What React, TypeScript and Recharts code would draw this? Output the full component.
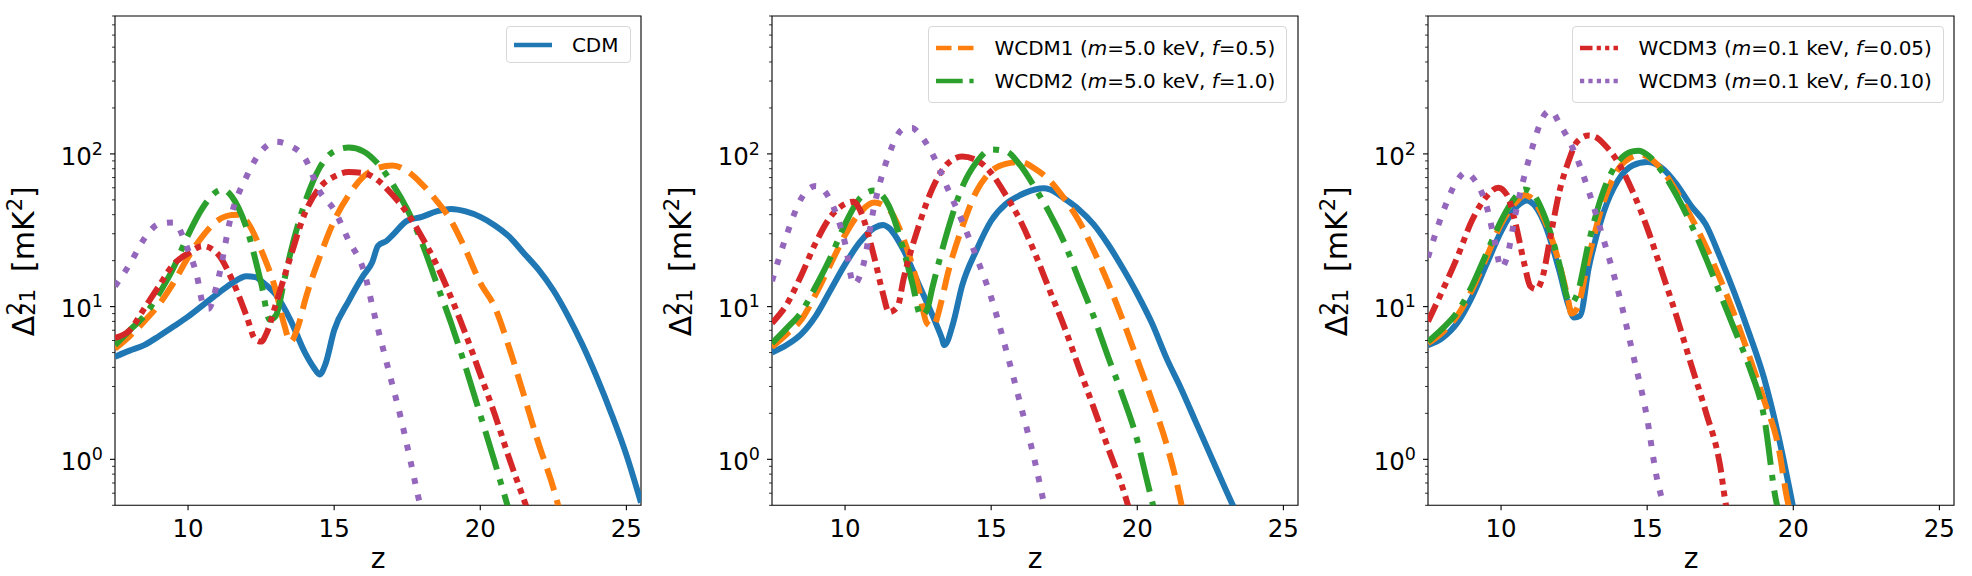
import React from 'react';
import { LineChart, Line, XAxis, YAxis, ReferenceArea } from 'recharts';

type Pt = [number, number];

// ---------- axes ----------
const X_TICKS = [10, 15, 20, 25];
const Y_MAJOR = [1, 10, 100];
const Y_MINOR = [0.5, 0.6, 0.7, 0.8, 0.9, 2, 3, 4, 5, 6, 7, 8, 9, 20, 30, 40, 50, 60, 70, 80, 90, 200, 300, 400, 500, 600, 700, 800];
const X_DOMAIN: [number, number] = [7.5, 25.5];
const Y_DOMAIN: [number, number] = [0.5, 800];

// ---------- panel 1 ----------
const P1_CDM: Pt[] = [[7.5,4.7],[8,5.15],[8.5,5.6],[9,6.4],[9.5,7.4],[10,8.6],[10.5,10.2],[11,12.1],[11.5,14.2],[12,15.8],[12.3,15.6],[12.6,14.2],[13,12],[13.5,8.2],[14,5],[14.3,4.0],[14.5,3.6],[14.7,4.2],[15,7],[15.5,10.9],[16,16],[16.3,19.5],[16.5,25],[16.8,27],[17,29.4],[17.5,36.5],[18,38.7],[18.5,42],[19,43.6],[19.5,42],[20,38.7],[20.5,34],[21,28.6],[21.5,22.3],[22,17.4],[22.5,12.8],[23,8.7],[23.5,5.6],[24,3.4],[24.5,1.96],[25,1.07],[25.5,0.52]];
const P1_WCDM1: Pt[] = [[7.5,5.3],[8,6.4],[8.5,8],[9,10.3],[9.5,14.3],[10,21],[10.5,29],[11,36.5],[11.5,39.8],[11.8,40],[12,36.5],[12.5,23.5],[13,12.8],[13.3,7.5],[13.5,5.9],[13.8,7.8],[14,10.9],[14.5,21],[15,36.5],[15.5,53.8],[16,71],[16.5,81],[17,84],[17.5,77],[18,63.5],[18.5,49.5],[19,36.5],[19.5,23.5],[20,14.3],[20.5,9.9],[21,5.3],[21.5,2.6],[22,1.26],[22.5,0.65],[22.8,0.4]];
const P1_WCDM2: Pt[] = [[7.5,5.6],[8,7],[8.5,8.7],[9,12.1],[9.5,17.9],[10,29.4],[10.5,44.4],[11,57],[11.2,58.5],[11.5,52.5],[12,32.8],[12.5,14.3],[12.8,8.2],[13,8.7],[13.3,15.1],[13.5,22.3],[14,48],[14.5,81],[15,104],[15.5,110],[16,104],[16.5,86],[17,63.5],[17.5,43.3],[18,26.3],[18.5,14.3],[19,7.8],[19.5,4],[20,1.96],[20.5,0.95],[21,0.45]];
const P1_WCDM3A: Pt[] = [[7.5,6.25],[8,7],[8.5,9.7],[9,13.6],[9.5,18.9],[10,22.3],[10.5,24.9],[11,22.3],[11.5,15.1],[12,8.7],[12.3,6.1],[12.5,5.9],[12.7,6.8],[13,10.3],[13.5,21],[14,41],[14.5,60],[15,71],[15.5,76],[16,75],[16.5,67],[17,53.8],[17.5,41],[18,28.6],[18.5,18.9],[19,11.5],[19.5,6.6],[20,3.6],[20.5,1.96],[21,1.0],[21.5,0.54],[21.7,0.42]];
const P1_WCDM3B: Pt[] = [[7.5,13.6],[8,18.9],[8.5,27.8],[9,34.7],[9.5,35.6],[10,23.5],[10.3,16],[10.5,10.6],[10.7,9.7],[11,14.3],[11.5,41],[12,71],[12.5,104],[13,120],[13.5,113],[14,93.6],[14.5,57],[15,43],[15.5,27],[16,17.5],[16.4,8.5],[16.9,3.6],[17.3,1.8],[17.6,1.0],[17.85,0.6],[18,0.45]];

// ---------- panel 2 ----------
const P2_CDM: Pt[] = [[7.5,5.0],[8,5.6],[8.5,6.6],[9,8.7],[9.5,12.8],[10,18.9],[10.5,26.3],[11,32.8],[11.3,34.3],[11.5,32.8],[12,23.5],[12.5,14.3],[13,8.7],[13.3,6.3],[13.4,5.6],[13.7,7.8],[14,13.6],[14.5,23.5],[15,36.5],[15.5,47],[16,53.8],[16.5,58.5],[16.8,59.5],[17,58.5],[17.5,51],[18,43.3],[18.5,34.7],[19,25.6],[19.5,17.9],[20,12.1],[20.5,7.8],[21,4.6],[21.5,2.9],[22,1.76],[22.5,1.07],[23,0.65],[23.5,0.4]];
const P2_WCDM1: Pt[] = [[7.5,5.45],[8,6.6],[8.5,8.2],[9,12.1],[9.5,18.9],[10,29.4],[10.5,41],[11,48],[11.5,43.3],[12,27.8],[12.5,13.6],[12.8,7.8],[13,7.4],[13.3,10.9],[13.5,16],[14,32.8],[14.5,57],[15,77],[15.5,86],[16,88.5],[16.5,80],[17,67],[17.5,51],[18,36.5],[18.5,23.5],[19,14.3],[19.5,8.2],[20,4.5],[20.5,2.44],[21,1.26],[21.3,0.77],[21.6,0.42]];
const P2_WCDM2: Pt[] = [[7.5,5.75],[8,7.2],[8.5,9.2],[9,13.6],[9.5,21],[10,34.7],[10.5,51],[11,57.5],[11.5,45.7],[12,23.5],[12.3,14.3],[12.6,8.7],[12.8,9.5],[13,13.6],[13.5,31],[14,60],[14.5,88.5],[15,107],[15.5,104],[16,84],[16.5,60],[17,41],[17.5,26.3],[18,15.1],[18.5,8.7],[19,4.7],[19.5,2.6],[20,1.33],[20.3,0.77],[20.6,0.45]];
const P2_WCDM3A: Pt[] = [[7.5,7.8],[8,10.3],[8.5,16],[9,26.3],[9.5,38.7],[10,47],[10.3,48.7],[10.5,43.3],[11,21],[11.3,12.1],[11.5,9.2],[11.8,10],[12,15.1],[12.5,32.8],[13,60],[13.5,86],[14,96],[14.5,91],[15,75],[15.5,53.8],[16,36.5],[16.5,22.3],[17,12.8],[17.5,7.4],[18,4],[18.5,2.2],[19,1.19],[19.5,0.65],[19.8,0.42]];
const P2_WCDM3B: Pt[] = [[7.5,14.7],[8,29.4],[8.5,51],[9,61.7],[9.5,49.5],[10,26],[10.3,14],[10.6,18],[11,45.7],[11.5,99],[12,146],[12.3,148],[12.5,138],[13,99],[13.5,60],[14,36.5],[14.5,21],[15,11.5],[15.5,5.3],[16,2.3],[16.5,0.96],[16.9,0.42]];

// ---------- panel 3 ----------
const P3_CDM: Pt[] = [[7.5,5.6],[8,6.25],[8.5,7.8],[9,11.5],[9.5,18.9],[10,31],[10.5,44.4],[10.9,49.5],[11,48.7],[11.5,34.7],[12,17],[12.3,10.3],[12.5,8.5],[12.7,8.7],[13,17.9],[13.5,41],[14,67],[14.5,84],[15,88.5],[15.5,81],[16,63.5],[16.5,45.7],[17,34.7],[17.5,21],[18,12.1],[18.5,6.6],[19,3.4],[19.5,1.4],[20,0.48]];
const P3_WCDM1: Pt[] = [[7.5,5.75],[8,6.8],[8.5,8.7],[9,12.8],[9.5,21],[10,34.7],[10.5,48],[10.8,53.8],[11,52],[11.5,36.5],[12,18.9],[12.3,11],[12.4,9],[12.6,9.7],[13,21],[13.5,48],[14,79],[14.5,96],[14.8,99],[15,96],[15.5,79],[16,57],[16.5,38.7],[17,24.9],[17.5,15.1],[18,8.7],[18.5,4.7],[19,2.44],[19.5,1.19],[19.8,0.54],[19.9,0.45]];
const P3_WCDM2: Pt[] = [[7.5,5.9],[8,7.2],[8.5,9.2],[9,13.6],[9.5,22.3],[10,36.5],[10.5,52.5],[10.8,58.5],[11,57],[11.5,38.7],[12,18.9],[12.3,11],[12.4,10.5],[12.6,12],[13,26.3],[13.5,57],[14,88.5],[14.5,104],[14.7,105],[15,99],[15.5,77],[16,53.8],[16.5,34.7],[17,21],[17.5,12.1],[18,7],[18.5,4.0],[19,1.9],[19.4,0.55],[19.5,0.45]];
const P3_WCDM3A: Pt[] = [[7.5,8],[8,12.8],[8.5,21],[9,36.5],[9.5,52.5],[9.9,60],[10.2,54],[10.5,34.7],[10.8,18.9],[11,13.6],[11.2,13],[11.4,15.1],[11.7,29.4],[12,57],[12.3,88.5],[12.6,120],[13,132],[13.3,127],[13.5,117],[14,88.5],[14.5,57],[15,32.8],[15.5,17],[16,8.7],[16.5,4.2],[17,2.07],[17.5,0.9],[17.7,0.5],[17.8,0.42]];
const P3_WCDM3B: Pt[] = [[7.5,21],[8,41],[8.5,67],[8.8,76],[9,71],[9.5,45.7],[9.8,26],[10,17.9],[10.2,21],[10.5,41],[11,99],[11.5,182],[11.7,192],[12,158],[12.5,104],[13,57],[13.5,27.8],[14,12.8],[14.5,5],[15,1.85],[15.3,0.81],[15.5,0.55],[15.6,0.45]];

// ---------- legend labels ----------
type LegendLabel = { name: string; m?: string; f?: string };
const LBL_CDM: LegendLabel = { name: 'CDM' };
const LBL_W1: LegendLabel = { name: 'WCDM1', m: '5.0', f: '0.5' };
const LBL_W2: LegendLabel = { name: 'WCDM2', m: '5.0', f: '1.0' };
const LBL_W3A: LegendLabel = { name: 'WCDM3', m: '0.1', f: '0.05' };
const LBL_W3B: LegendLabel = { name: 'WCDM3', m: '0.1', f: '0.10' };

// ---------- styles ----------
const FONT = '"DejaVu Sans", sans-serif';
type Style = { color: string; dash?: string; legendDash?: string };
const STYLES: Record<string, Style> = {
  cdm: { color: '#1f77b4' },
  w1: { color: '#ff7f0e', dash: '23 10', legendDash: '15.5 6.5' },
  w2: { color: '#2ca02c', dash: '40 10 6 10', legendDash: '26.7 6.7 4.2 6.7' },
  w3a: { color: '#d62728', dash: '19 6 6 6 6 6', legendDash: '12.5 4.2 4.2 4.2 4.2 4.2' },
  w3b: { color: '#9467bd', dash: '6 11', legendDash: '4.2 4.2' },
};

const PANELS = [
  { series: { cdm: P1_CDM, w1: P1_WCDM1, w2: P1_WCDM2, w3a: P1_WCDM3A, w3b: P1_WCDM3B }, legend: [['cdm', LBL_CDM]] as [string, LegendLabel][] },
  { series: { cdm: P2_CDM, w1: P2_WCDM1, w2: P2_WCDM2, w3a: P2_WCDM3A, w3b: P2_WCDM3B }, legend: [['w1', LBL_W1], ['w2', LBL_W2]] as [string, LegendLabel][] },
  { series: { cdm: P3_CDM, w1: P3_WCDM1, w2: P3_WCDM2, w3a: P3_WCDM3A, w3b: P3_WCDM3B }, legend: [['w3a', LBL_W3A], ['w3b', LBL_W3B]] as [string, LegendLabel][] },
];
const SERIES_ORDER = ['cdm', 'w1', 'w2', 'w3a', 'w3b'];

// ---------- layout ----------
const PANEL_LEFTS = [115, 771.7, 1428.4];
const Y_AXIS_W = 115;
const FRAME_W = 526;
const FRAME_TOP = 16;
const FRAME_BOTTOM = 505.3;
const CHART_H = 576;
const CHART_W = Y_AXIS_W + FRAME_W + 4;
const YLABEL_LEN = 151;

const Y_TICKS = [...Y_MINOR, ...Y_MAJOR].sort((a, b) => a - b);

const YTick = (p: any) => {
  const { x, y, payload } = p;
  const v = payload.value;
  const major = Y_MAJOR.includes(v);
  return (
    <g>
      <line x1={x - (major ? 5 : 3)} x2={x} y1={y} y2={y} stroke="#000" strokeWidth={major ? 1.1 : 0.8} />
      {major && (
        <text x={x - 12} y={y + 10.8} textAnchor="end" fontFamily={FONT} fontSize={24.5} fill="#000">
          10<tspan dy={-10} fontSize={17.5}>{Math.round(Math.log10(v))}</tspan>
        </text>
      )}
    </g>
  );
};

const XTick = (p: any) => {
  const { x, y, payload } = p;
  return (
    <g>
      <line x1={x} x2={x} y1={y} y2={y + 5} stroke="#000" strokeWidth={1.1} />
      <text x={x} y={y + 32} textAnchor="middle" fontFamily={FONT} fontSize={24.5} fill="#000">
        {payload.value}
      </text>
    </g>
  );
};

const LegendText = ({ l }: { l: LegendLabel }) =>
  l.m ? (
    <span>
      {l.name} (<i>m</i>={l.m} keV, <i>f</i>={l.f})
    </span>
  ) : (
    <span>{l.name}</span>
  );

const LegendBox = ({ items }: { items: [string, LegendLabel][] }) => {
  const multi = items.length > 1;
  return (
    <div
      style={{
        position: 'absolute',
        top: FRAME_TOP + 10,
        right: CHART_W - (Y_AXIS_W + FRAME_W - 10.5),
        border: '1px solid #d8d8d8',
        borderRadius: 4,
        background: 'rgba(255,255,255,0.8)',
        padding: '8px 11px 8px 7px',
        fontFamily: FONT,
        fontSize: 20,
        color: '#000',
        display: 'flex',
        flexDirection: 'column',
        gap: 6.4,
        boxSizing: 'border-box',
      }}
    >
      {items.map(([k, l], i) => (
        <div key={i} style={{ display: 'flex', alignItems: 'center', height: multi ? 26.5 : 19, whiteSpace: 'nowrap' }}>
          <svg width={38} height={10} style={{ marginRight: 20, flex: 'none' }}>
            <line x1={0} x2={38} y1={5} y2={5} stroke={STYLES[k].color} strokeWidth={4.3} strokeDasharray={STYLES[k].legendDash} />
          </svg>
          <LegendText l={l} />
        </div>
      ))}
    </div>
  );
};

const Panel = ({ idx }: { idx: number }) => {
  const panel = PANELS[idx];
  const left = PANEL_LEFTS[idx] - Y_AXIS_W;
  const yMid = (FRAME_TOP + FRAME_BOTTOM) / 2;
  return (
    <div style={{ position: 'absolute', left, top: 0, width: CHART_W, height: CHART_H }}>
      <LineChart width={CHART_W} height={CHART_H} margin={{ top: FRAME_TOP, right: 4, bottom: 0, left: 0 }}>
        <XAxis
          dataKey="z"
          type="number"
          domain={X_DOMAIN}
          allowDataOverflow
          ticks={X_TICKS}
          interval={0}
          height={CHART_H - FRAME_BOTTOM}
          tickSize={0}
          tickMargin={0}
          tickLine={false}
          axisLine={false}
          tick={<XTick />}
        />
        <YAxis
          type="number"
          scale="log"
          domain={Y_DOMAIN}
          allowDataOverflow
          ticks={Y_TICKS}
          interval={0}
          width={Y_AXIS_W}
          tickSize={0}
          tickMargin={0}
          tickLine={false}
          axisLine={false}
          tick={<YTick />}
        />
        {SERIES_ORDER.map((k) => {
          const pts = (panel.series as Record<string, Pt[]>)[k].map(([z, v]) => ({ z, v }));
          const st = STYLES[k];
          return (
            <Line
              key={k}
              data={pts}
              dataKey="v"
              type="monotone"
              stroke={st.color}
              strokeWidth={6}
              strokeDasharray={st.dash}
              strokeLinecap="butt"
              strokeLinejoin="round"
              dot={false}
              activeDot={false}
              isAnimationActive={false}
              legendType="none"
            />
          );
        })}
        <ReferenceArea
          x1={X_DOMAIN[0]}
          x2={X_DOMAIN[1]}
          y1={Y_DOMAIN[0]}
          y2={Y_DOMAIN[1]}
          fill="none"
          fillOpacity={0}
          stroke="#000"
          strokeWidth={1.1}
          ifOverflow="visible"
        />
      </LineChart>
      <svg width={CHART_W} height={CHART_H} style={{ position: 'absolute', left: 0, top: 0, pointerEvents: 'none' }}>
        <text
          transform={`translate(34, ${yMid + YLABEL_LEN / 2}) rotate(-90)`}
          textAnchor="start"
          fontFamily={FONT}
          fontSize={30}
          fill="#000"
        >
          Δ<tspan fontSize={21} dy={-12}>2</tspan>
          <tspan fontSize={21} dx={-13.4} dy={13}>21</tspan>
          <tspan fontSize={30} dx={17} dy={-1}>[mK</tspan>
          <tspan fontSize={21} dy={-12}>2</tspan>
          <tspan fontSize={30} dy={12}>]</tspan>
        </text>
        <text x={Y_AXIS_W + FRAME_W / 2} y={568} textAnchor="middle" fontFamily={FONT} fontSize={28} fill="#000">
          z
        </text>
      </svg>
      <LegendBox items={panel.legend} />
    </div>
  );
};

export default function App() {
  return (
    <div style={{ position: 'absolute', left: 0, top: 0, width: 1972, height: 576, background: '#fff', overflow: 'hidden' }}>
      {PANELS.map((_, i) => (
        <Panel key={i} idx={i} />
      ))}
    </div>
  );
}
